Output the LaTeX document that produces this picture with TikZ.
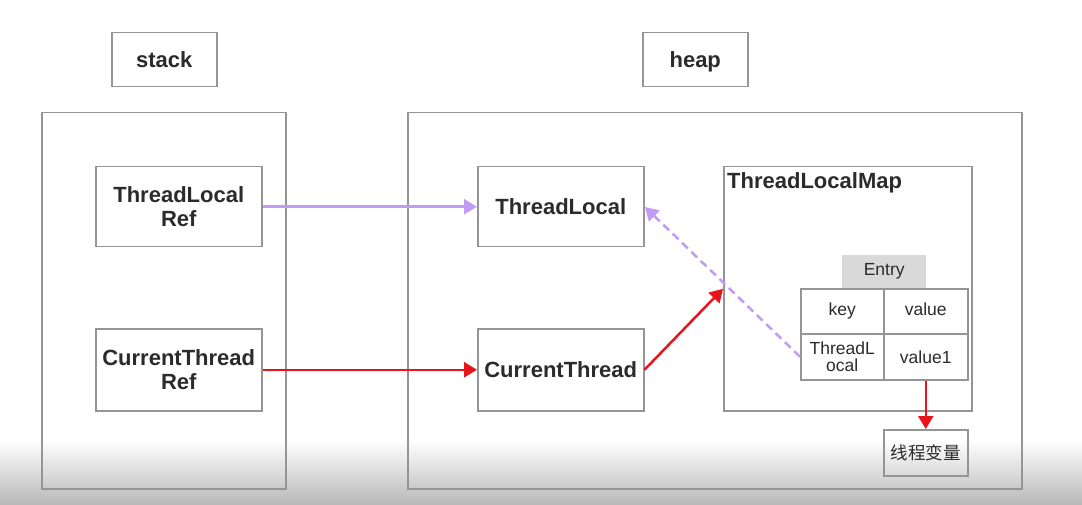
\documentclass[tikz,border=0pt]{standalone}
\usepackage{fontspec}
\setmainfont{Liberation Sans}
\newfontfamily\cjk{Noto Sans CJK SC}
\usetikzlibrary{arrows.meta}
\definecolor{txt}{HTML}{2B2B2B}
\definecolor{bord}{HTML}{959595}
\definecolor{lav}{HTML}{C29CF4}
\definecolor{redc}{HTML}{E8141C}
\definecolor{entryfill}{HTML}{D9D9D9}
\begin{document}
\begin{tikzpicture}[x=1pt,y=-1pt,
  box/.style={draw=bord,line width=1.5pt,inner sep=0pt,text=txt},
  bold/.style={font=\fontsize{22}{26}\selectfont\bfseries},
  reg/.style={font=\fontsize{17.5}{20}\selectfont},
  lavarrow/.style={draw=lav,line width=2.5pt,-{Triangle[length=13pt,width=15pt]}},
  redarrow/.style={draw=redc,line width=2.5pt,-{Triangle[length=13pt,width=15pt]}}]
\useasboundingbox (0,0) rectangle (1082,505);
\fill[white] (0,0) rectangle (1082,440);
\shade[top color=white,bottom color=black!28] (0,440) rectangle (1082,505);
% outer frames
\node[box,minimum width=244pt,minimum height=376pt,anchor=north west] (stackframe) at (41,112) {};
\node[box,minimum width=614pt,minimum height=376pt,anchor=north west] (heapframe) at (407,112) {};
% titles
\node[box,bold,minimum width=105pt,minimum height=54pt,anchor=north west,text height=20pt,text depth=4pt] (stack) at (111,32) {stack};
\node[box,bold,minimum width=105pt,minimum height=54pt,anchor=north west,text height=20pt,text depth=4pt] (heap) at (642,32) {heap};
% stack boxes
\node[box,bold,minimum width=166pt,minimum height=80pt,anchor=north west,align=center] (tlref) at (95,166) {ThreadLocal\\[-2pt]Ref};
\node[box,bold,minimum width=166pt,minimum height=82pt,anchor=north west,align=center] (ctref) at (95,328) {CurrentThread\\[-2pt]Ref};
% heap boxes
\node[box,bold,minimum width=166pt,minimum height=80pt,anchor=north west] (tl) at (477,166) {ThreadLocal};
\node[box,bold,minimum width=166pt,minimum height=82pt,anchor=north west] (ct) at (477,328) {CurrentThread};
\node[box,minimum width=248pt,minimum height=244pt,anchor=north west] (map) at (723,166) {};
\node[bold,text=txt,anchor=west,inner sep=0pt] (maptitle) at (727,183) {ThreadLocalMap};
% entry
\node[fill=entryfill,reg,text=txt,minimum width=84pt,minimum height=33pt,anchor=north west,inner sep=0pt] (entry) at (842,255) {Entry};
\node[box,reg,minimum width=83pt,minimum height=45pt,anchor=north west,text height=13pt,text depth=4pt] (key) at (800,288) {key};
\node[box,reg,minimum width=84pt,minimum height=45pt,anchor=north west,text height=13pt,text depth=4pt] (value) at (883,288) {value};
\node[box,reg,minimum width=83pt,minimum height=46pt,anchor=north west,align=center] (tlcell) at (800,333) {ThreadL\\[-3pt]ocal};
\node[box,reg,minimum width=84pt,minimum height=46pt,anchor=north west] (value1) at (883,333) {value1};
\node[box,minimum width=84pt,minimum height=46pt,anchor=north west,font=\cjk\fontsize{17.5}{20}\selectfont] (var) at (883,429) {线程变量};
% arrows
\draw[lavarrow] (tlref.east) -- (tl.west);
\draw[redarrow] (ctref.east) -- (ct.west);
\draw[redarrow] (ct.east) -- (map.west);
\draw[lavarrow,dashed,dash pattern=on 8pt off 5pt] (tlcell.west) -- (645,207);
\draw[redarrow] (value1.south) -- (var.north);
\end{tikzpicture}
\end{document}
